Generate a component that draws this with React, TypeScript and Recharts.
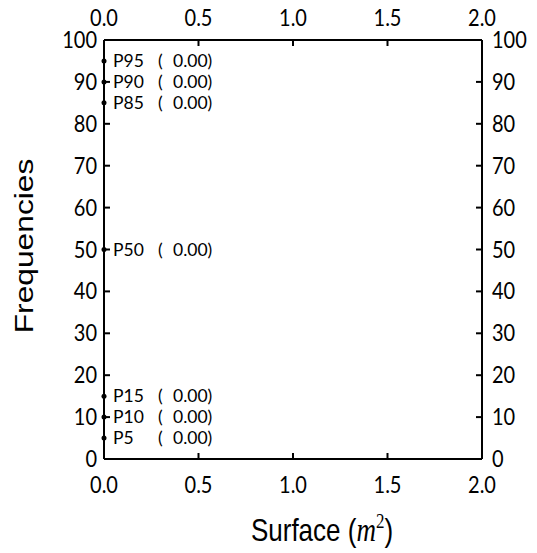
import { ScatterChart, Scatter, XAxis, YAxis } from 'recharts';

// percentile markers, all sitting at 0.00 m²
const percentileNames = ['P5', 'P10', 'P15', 'P50', 'P85', 'P90', 'P95'];
const percentileLevels = [5, 10, 15, 50, 85, 90, 95];
const percentileValues = [0, 0, 0, 0, 0, 0, 0];

const xTicks = [0, 0.5, 1, 1.5, 2];
const yTicks = [0, 10, 20, 30, 40, 50, 60, 70, 80, 90, 100];

const points = percentileNames.map((name, i) => ({
  name,
  level: percentileLevels[i],
  value: percentileValues[i],
}));

const TICK_FONT = { fontFamily: 'Lato', fontSize: 20, fill: '#000' };
const INNER_TICK = 6;
const STRETCH = 'scale(1,1.15)';

function BottomTick({ x, y, payload }: any) {
  return (
    <g>
      <line x1={x} y1={y} x2={x} y2={y - INNER_TICK} stroke="#000" strokeWidth={2} />
      <text transform={`translate(${x},${y + 34}) ${STRETCH}`} textAnchor="middle" {...TICK_FONT}>
        {Number(payload.value).toFixed(1)}
      </text>
    </g>
  );
}

function TopTick({ x, y, payload }: any) {
  return (
    <g>
      <line x1={x} y1={y} x2={x} y2={y + INNER_TICK} stroke="#000" strokeWidth={2} />
      <text transform={`translate(${x},${y - 14}) ${STRETCH}`} textAnchor="middle" {...TICK_FONT}>
        {Number(payload.value).toFixed(1)}
      </text>
    </g>
  );
}

function LeftTick({ x, y, payload }: any) {
  return (
    <g>
      <line x1={x} y1={y} x2={x + INNER_TICK} y2={y} stroke="#000" strokeWidth={2} />
      <text transform={`translate(${x - 7},${y + 8}) ${STRETCH}`} textAnchor="end" {...TICK_FONT}>
        {payload.value}
      </text>
    </g>
  );
}

function RightTick({ x, y, payload }: any) {
  return (
    <g>
      <line x1={x} y1={y} x2={x - INNER_TICK} y2={y} stroke="#000" strokeWidth={2} />
      <text transform={`translate(${x + 10},${y + 8}) ${STRETCH}`} textAnchor="start" {...TICK_FONT}>
        {payload.value}
      </text>
    </g>
  );
}

function PercentileMark(props: any) {
  const { cx, cy, payload } = props;
  return (
    <g>
      <circle cx={cx} cy={cy} r={2.5} fill="#000" />
      <text y={cy + 6} fontFamily="Lato" fontSize={17.5} fill="#000">
        <tspan x={cx + 9}>{payload.name}</tspan>
        <tspan x={cx + 54}>(</tspan>
        <tspan x={cx + 69}>{payload.value.toFixed(2)})</tspan>
      </text>
    </g>
  );
}

const NoMark = () => <g />;

const axisLine = { stroke: '#000', strokeWidth: 2 };

export default function App() {
  return (
    <div style={{ position: 'absolute', left: 0, top: 0, background: '#fff' }}>
      <ScatterChart width={537} height={553} margin={{ top: 0, right: 0, bottom: 0, left: 0 }}>
        <XAxis
          xAxisId="b"
          orientation="bottom"
          type="number"
          dataKey="value"
          domain={[0, 2]}
          ticks={xTicks}
          interval={0}
          height={94}
          axisLine={axisLine}
          tickLine={false}
          tickSize={0}
          tickMargin={0}
          tick={<BottomTick />}
        />
        <XAxis
          xAxisId="t"
          orientation="top"
          type="number"
          dataKey="value"
          domain={[0, 2]}
          ticks={xTicks}
          interval={0}
          height={40}
          axisLine={axisLine}
          tickLine={false}
          tickSize={0}
          tickMargin={0}
          tick={<TopTick />}
        />
        <YAxis
          yAxisId="l"
          orientation="left"
          type="number"
          dataKey="level"
          domain={[0, 100]}
          ticks={yTicks}
          interval={0}
          width={104}
          axisLine={axisLine}
          tickLine={false}
          tickSize={0}
          tickMargin={0}
          tick={<LeftTick />}
        />
        <YAxis
          yAxisId="r"
          orientation="right"
          type="number"
          dataKey="level"
          domain={[0, 100]}
          ticks={yTicks}
          interval={0}
          width={55}
          axisLine={axisLine}
          tickLine={false}
          tickSize={0}
          tickMargin={0}
          tick={<RightTick />}
        />
        {/* keeps the top and right axes alive, draws nothing */}
        <Scatter data={points} xAxisId="t" yAxisId="r" shape={NoMark} isAnimationActive={false} />
        <Scatter
          data={points}
          xAxisId="b"
          yAxisId="l"
          shape={PercentileMark}
          isAnimationActive={false}
        />
        <text
          transform="translate(33,246) scale(1,1.27) rotate(-90)"
          textAnchor="middle"
          fontFamily="Liberation Sans"
          fontSize={25}
          fill="#000"
        >
          Frequencies
        </text>
        <text
          transform="translate(322,541) scale(1,1.22)"
          textAnchor="middle"
          fontFamily="Liberation Sans"
          fontSize={26}
          fill="#000"
        >
          Surface (
          <tspan fontFamily="Liberation Serif" fontStyle="italic" fontSize={27}>m</tspan>
          <tspan fontFamily="Liberation Serif" fontSize={17} dy={-11}>2</tspan>
          <tspan dy={11}>)</tspan>
        </text>
      </ScatterChart>
    </div>
  );
}
